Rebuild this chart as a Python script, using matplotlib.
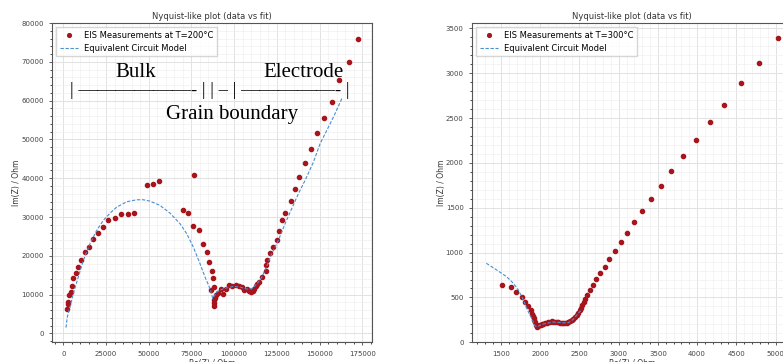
import numpy as np
import matplotlib
matplotlib.use('Agg')
import matplotlib.pyplot as plt
from matplotlib.ticker import AutoMinorLocator

# measured points, T=200C
x200 = [2000, 2580, 2930, 3510, 4330, 4920, 5680, 7440, 8780, 10190, 12700, 15050, 17390, 20500,
        23420, 26180, 30100, 33960, 37700, 41220, 49000, 52700, 55850, 70080, 73180, 76700, 76110,
        79450, 82000, 83950, 85300, 87060, 87470, 88410, 86650, 88640, 88230, 88230, 88060, 89230,
        90580, 92500, 93700, 95260, 97200, 98950, 100900, 102900, 104600, 106000, 107400, 108500,
        109700, 110900, 111800, 112800, 113600, 114800, 116500, 118500, 118500, 119400, 121000,
        122800, 124900, 126300, 127900, 129600, 133300, 135700, 137800, 141300, 144800, 148700,
        152600, 157100, 161200, 167100, 172400]
y200 = [6260, 7650, 8070, 9790, 10570, 12290, 14180, 15540, 17190, 18990, 21050, 22250, 24310, 25850,
        27400, 29120, 29820, 30750, 30670, 30930, 38200, 38400, 39350, 31780, 31010, 40800, 27750,
        26550, 22940, 20950, 18300, 16060, 14180, 11860, 11160, 9200, 8500, 7810, 7040, 9790,
        10490, 11420, 10050, 11420, 12450, 12290, 12450, 12110, 11860, 11080, 11420, 10820,
        10570, 10900, 11420, 12110, 12800, 13230, 14610, 16160, 17710, 18990, 20620,
        22250, 24150, 26370, 29120, 30930, 34020, 37290, 40280, 43850, 47420, 51620,
        55670, 59790, 65280, 70100, 76030]

# model curve, T=200C
fit200_x = [1580, 2340, 3920, 5860, 8200, 11710, 15630, 19550, 23420, 27350, 31270, 37130, 42990,
            46850, 50770, 56620, 62490, 68340, 72250, 76110, 80040, 82960, 85890, 87470, 89800,
            93700, 99530, 103400, 107400, 110300, 113200, 116200, 119100, 122000, 125900, 129800,
            133700, 137600, 141500, 146400, 150300, 158100, 163400]
fit200_y = [1470, 4200, 6780, 10230, 13660, 18810, 23120, 26550, 29120, 31000, 32550, 33940, 34450,
            34450, 34100, 32990, 31000, 28270, 25700, 22250, 17960, 14510, 11520, 9000, 10650,
            11520, 12110, 11930, 11420, 11520, 12630, 14510, 17270, 20540, 23970, 28270,
            32140, 36000, 39430, 44150, 48900, 55750, 60900]

# measured points, T=300C
x300 = [1517, 1624, 1695, 1764, 1806, 1848, 1878, 1899, 1910, 1917, 1925, 1935, 1946, 1955, 1962,
        1975, 1990, 2005, 2020, 2039, 2060, 2082, 2103, 2124, 2145, 2166, 2188, 2209, 2230, 2252,
        2273, 2294, 2315, 2337, 2358, 2379, 2400, 2421, 2442, 2464, 2485, 2507, 2521, 2536, 2555,
        2574, 2600, 2630, 2676, 2715, 2762, 2821, 2880, 2949, 3025, 3102, 3198, 3300, 3411, 3539,
        3670, 3819, 3989, 4167, 4345, 4562, 4791, 5029]
y300 = [642, 613, 561, 505, 453, 405, 360, 315, 290, 274, 250, 230, 193, 182, 174,
        180, 189, 197, 204, 204, 212, 219, 225, 230, 232, 230, 228, 226, 222, 219,
        217, 215, 213, 215, 222, 234, 247, 263, 282, 304, 330, 360, 386, 412, 445,
        479, 525, 580, 639, 702, 776, 839, 932, 1014, 1115, 1222, 1341, 1461, 1601, 1745,
        1906, 2079, 2251, 2452, 2648, 2889, 3115, 3391]

# model curve, T=300C
fit300_x = [1313, 1445, 1573, 1657, 1721, 1784, 1848, 1891, 1933, 1955, 2039, 2166, 2294, 2358,
            2421, 2485, 2515]
fit300_y = [881, 806, 731, 658, 583, 472, 341, 268, 182, 174, 204, 226, 218, 218, 256, 323, 352]

W, H = 783, 362
fig = plt.figure(figsize=(W / 100, H / 100), dpi=100)
ax1 = fig.add_axes([52 / W, (H - 342.3) / H, 320 / W, 319.3 / H])
ax2 = fig.add_axes([472 / W, (H - 342.3) / H, 320 / W, 319.3 / H])

dot_color = '#a8141c'
line_color = '#4a8fcf'


def style(ax, label, xs, ys, fx, fy):
    ax.plot(xs, ys, 'o', color=dot_color, markersize=3, linestyle='none', label=label, zorder=3)
    ax.plot(fx, fy, '--', color=line_color, linewidth=0.8, dashes=(3, 1.5),
            label='Equivalent Circuit Model', zorder=4)
    ax.xaxis.set_minor_locator(AutoMinorLocator())
    ax.yaxis.set_minor_locator(AutoMinorLocator())
    ax.grid(which='major', color='#e2e2e2', linewidth=0.7)
    ax.grid(which='minor', color='#f0f0f0', linewidth=0.5)
    ax.set_axisbelow(True)
    ax.tick_params(labelsize=5, colors='#444444', length=2.5, width=0.6)
    ax.tick_params(which='minor', length=1.5, width=0.5)
    for s in ax.spines.values():
        s.set_color('#555555')
        s.set_linewidth(0.8)
    ax.set_title('Nyquist-like plot (data vs fit)', fontsize=6, color='#333333', pad=3)
    ax.set_xlabel('Re(Z) / Ohm', fontsize=5.5, color='#333333', labelpad=2)
    ax.set_ylabel('Im(Z) / Ohm', fontsize=5.5, color='#333333', labelpad=0)
    ax.legend(loc='upper left', fontsize=6, frameon=True, edgecolor='#cccccc',
              fancybox=False, borderpad=0.4, handlelength=2.2, markerscale=0.9)


style(ax1, 'EIS Measurements at T=200°C', x200, y200, fit200_x, fit200_y)
style(ax2, 'EIS Measurements at T=300°C', x300, y300, fit300_x, fit300_y)

ax1.set_xlim(-6600, 180700)
ax1.set_ylim(-2320, 80050)
ax2.set_xlim(1130, 5210)
ax2.set_ylim(0, 3560)

serif = 'Liberation Serif'
ax1.text(42560, 67300, 'Bulk', fontsize=15, family=serif, ha='center', va='center')
ax1.text(140500, 67300, 'Electrode', fontsize=15, family=serif, ha='center', va='center')
ax1.text(98600, 56400, 'Grain boundary', fontsize=15, family=serif, ha='center', va='center')
ax1.text(85600, 62600, '| ——————- | | – | —————- |', fontsize=13.5, family=serif,
         ha='center', va='center')

fig.savefig('out.png', dpi=100)
